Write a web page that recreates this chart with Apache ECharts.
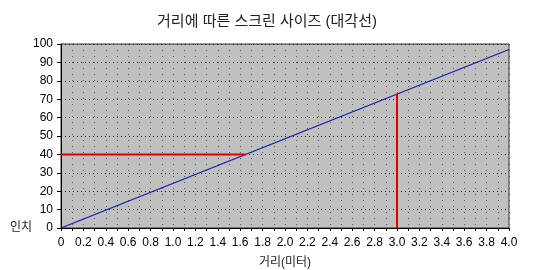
<!DOCTYPE html>
<html><head><meta charset="utf-8">
<script src="https://cdn.jsdelivr.net/npm/echarts@6/dist/echarts.min.js"></script>
<style>html,body{margin:0;padding:0;background:#fff}#c{width:534px;height:270px}</style>
</head><body><div id="c"></div>
<script>
var titleText = '거리에 따른 스크린 사이즈 (대각선)';
var xName = '거리(미터)';
var yName = '인치';
var sizeLineX = [0, 4.0];
var sizeLineY = [0, 97];
var horizX = [0, 1.65];
var horizY = [40, 40];
var vertX = [3.0, 3.0];
var vertY = [0, 73];

function pairs(xs, ys){ return xs.map(function(x,i){ return [x, ys[i]]; }); }

var chart = echarts.init(document.getElementById('c'), null, {renderer:'canvas'});
var font = '"Liberation Sans", "Noto Sans CJK KR", sans-serif';
chart.setOption({
  animation:false,
  title:{text:titleText,left:'center',top:9,textStyle:{fontSize:15,fontWeight:'normal',color:'#222',fontFamily:font}},
  grid:{left:61,right:25,top:44,bottom:42,outerBoundsMode:'none',containLabel:false,show:true,backgroundColor:'#c0c0c0',borderColor:'#333',borderWidth:1},
  xAxis:{type:'value',min:0,max:4,interval:0.2,
    name:xName,nameLocation:'middle',nameGap:29,nameTextStyle:{fontSize:12,color:'#222',fontFamily:font},
    axisLine:{lineStyle:{color:'#000',width:1}},
    axisTick:{show:true,length:3,lineStyle:{color:'#000'}},
    minorTick:{show:true,splitNumber:2,length:3,lineStyle:{color:'#000'}},
    axisLabel:{color:'#000',fontSize:12,fontFamily:font,margin:9,formatter:function(v){return v===0?'0':v.toFixed(1);}},
    splitLine:{show:true,lineStyle:{color:'#555',type:[1,5],width:1}},
    minorSplitLine:{show:true,lineStyle:{color:'#555',type:[1,5],width:1}}
  },
  yAxis:{type:'value',min:0,max:100,interval:10,
    name:yName,nameLocation:'start',nameGap:0,
    nameTextStyle:{fontSize:12,color:'#222',fontFamily:font,align:'right',verticalAlign:'middle',padding:[0,29,0,0]},
    axisLine:{show:true,lineStyle:{color:'#000',width:1}},
    axisTick:{show:true,length:4,lineStyle:{color:'#000'}},
    axisLabel:{color:'#000',fontSize:12,fontFamily:font,margin:8},
    splitLine:{show:true,lineStyle:{color:'#222',type:[1,3],width:1}}
  },
  series:[
    {type:'line',data:pairs(sizeLineX,sizeLineY),symbol:'none',lineStyle:{color:'#1a1aa0',width:1.3}},
    {type:'line',data:pairs(horizX,horizY),symbol:'none',lineStyle:{color:'#e00000',width:2}},
    {type:'line',data:pairs(vertX,vertY),symbol:'none',lineStyle:{color:'#e00000',width:2}}
  ]
});
</script></body></html>
